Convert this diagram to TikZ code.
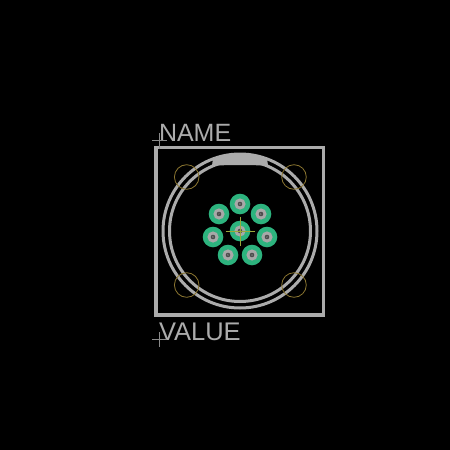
\documentclass[tikz,border=0pt]{standalone}
\usepackage{fontspec}
\setmainfont{Liberation Sans}
\definecolor{silk}{HTML}{ABABAB}
\definecolor{padgreen}{HTML}{2DB37E}
\definecolor{padgray}{HTML}{A8A8A8}
\definecolor{courty}{HTML}{8A7530}
\definecolor{cross}{HTML}{8A8A8A}
\definecolor{centre}{HTML}{9AA83A}
\tikzset{
  x=1pt,y=-1pt,
  silkline/.style={draw=silk,line width=3pt},
  mount/.style={draw=courty,line width=0.8pt},
  crossline/.style={draw=cross,line width=0.7pt},
  reftext/.style={text=silk,font=\fontsize{25}{25}\selectfont,inner sep=0pt,anchor=base west},
}
\newcommand{\padat}[3]{%
  \fill[padgreen] (#1,#2) circle[radius=10.3];
  \fill[padgray] (#1,#2) circle[radius=5.6];
  \fill[black!70] (#1,#2) circle[radius=2.3];
  \node[text=padgray,font=\fontsize{3}{3}\selectfont,inner sep=0pt] at (#1,#2) {#3};
}
\begin{document}
\begin{tikzpicture}
\useasboundingbox (0,0) rectangle (450,450);
\fill[black] (0,0) rectangle (450,450);
% outline
\draw[silkline,line width=3.2pt] (156,147.5) rectangle (323.5,315);
\draw[silkline] (240,231) circle[radius=77];
\draw[silkline] (240,231) circle[radius=70.5];
% key
\fill[silk] (213,158.5) .. controls (230,152.5) and (250,152.5) .. (267,158.5)
  -- (268,165.5) .. controls (250,165) and (230,165) .. (212,165.5) -- cycle;
% mounting holes
\foreach \p/\q in {186.7/177,294/177,186.7/285,294/285}
  \draw[mount] (\p,\q) circle[radius=12.3];
% pads
\padat{240}{204}{8}
\padat{261}{214}{1}
\padat{219}{214}{7}
\padat{213}{237}{6}
\padat{267}{237}{2}
\padat{228}{255}{5}
\padat{252}{255}{4}
\padat{240}{231}{3}
% centre cross
\draw[centre,line width=0.7pt] (225.5,231) -- (255,231) (240,216.5) -- (240,246);
% text
\node[reftext] (name) at (158.8,141.3) {NAME};
\node[reftext,font=\fontsize{25.5}{25.5}\selectfont] (value) at (158.8,340.5) {VALUE};
\draw[crossline] (152,140.8) -- (167,140.8) (159.3,133) -- (159.3,149);
\draw[crossline] (152,339.8) -- (167,339.8) (159.3,332) -- (159.3,347);
\end{tikzpicture}
\end{document}
